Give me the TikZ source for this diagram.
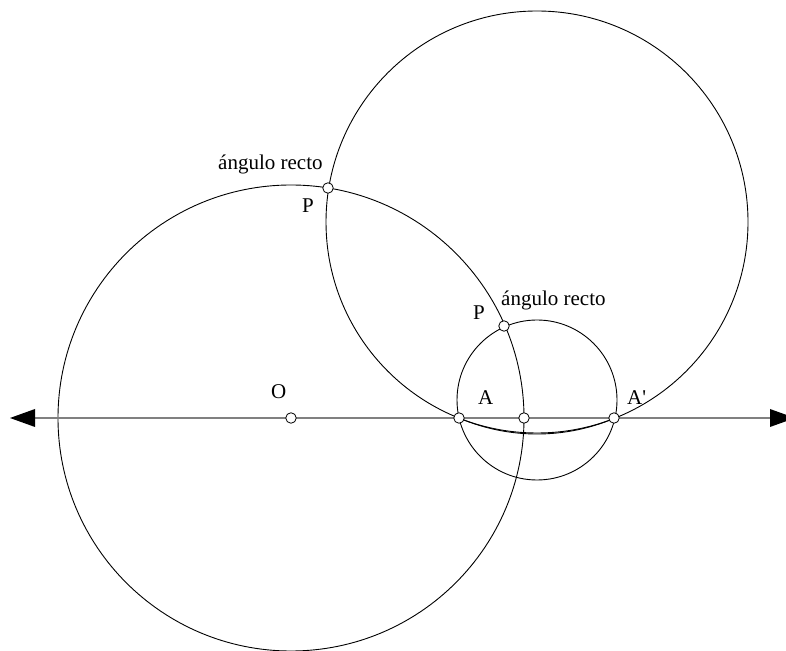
\documentclass[tikz,border=0pt]{standalone}
\usepackage{fontspec}
\setmainfont{Liberation Serif}
\begin{document}
\begin{tikzpicture}[x=1pt,y=1pt,
  geo/.style={draw=black, line width=0.9pt},
  pt/.style={circle, draw=black, fill=white, inner sep=0pt, minimum size=10.5pt, line width=0.8pt},
  lbl/.style={inner sep=0pt, anchor=base west, font=\fontsize{21}{25}\selectfont},
  axisline/.style={draw=gray, line width=1.3pt},
  tip/.style={fill=black}]
\useasboundingbox (0,0) rectangle (786,650);
\clip (0,0) rectangle (786,650);
% circles
\draw[geo] (291,232) circle[radius=233pt];
\draw[geo] (537,428) circle[radius=211pt];
\draw[geo] (537,250) circle[radius=80pt];
\draw[geo] (459,232) arc[start angle=246.8, end angle=293.2, radius=198pt];
% axis with arrowheads
\coordinate (L) at (35,232);
\coordinate (R) at (770,232);
\draw[axisline] (L) -- (R);
\fill[tip] (10,232) -- (35,241) -- (35,223) -- cycle;
\fill[tip] (795,232) -- (770,241) -- (770,223) -- cycle;
% points
\node[pt] (O) at (291,232) {};
\node[pt] (A) at (459,232) {};
\node[pt] (M) at (524,232) {};
\node[pt] (Ap) at (614,232) {};
\node[pt] (P1) at (328,462) {};
\node[pt] (P2) at (504,324) {};
% labels
\node[lbl] (t1) at (218,480) {ángulo recto};
\node[lbl] (p1) at (302,437) {P};
\node[lbl] (t2) at (501,344) {ángulo recto};
\node[lbl] (p2) at (473,330) {P};
\node[lbl] (la) at (478,245) {A};
\node[lbl] (lap) at (627,245) {A\textquotesingle};
\node[lbl] (lo) at (271,251) {O};
\end{tikzpicture}
\end{document}
